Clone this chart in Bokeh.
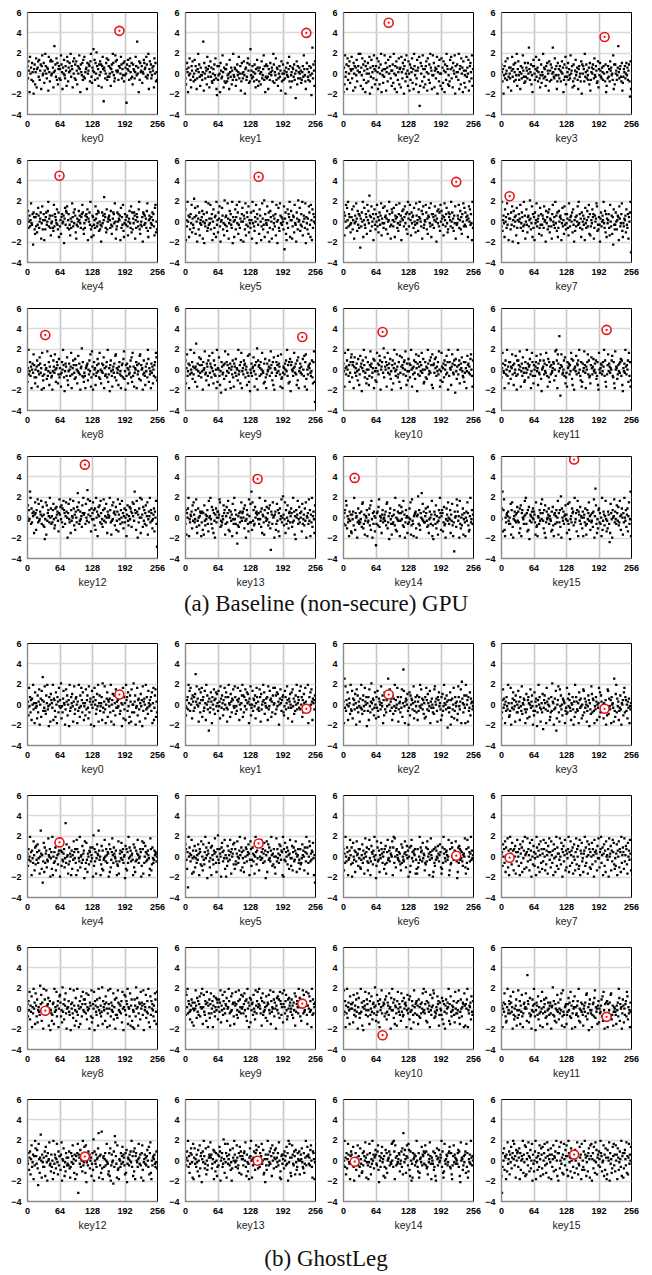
from bokeh.plotting import figure
from bokeh.layouts import column, row
from bokeh.models import Div, Spacer, FixedTicker, Label
from bokeh.embed import file_html
from bokeh.resources import INLINE

# ---------------------------------------------------------------- data
# Each letter is one key guess (0..255); value in units of 1e-3:
# (index of letter in LEVELS - index of "W") * 0.15
LEVELS = "ABCDEFGHIJKLMNOPQRSTUVWXYZabcdefghijklmnopqrstuvwxyz"
STEP = 0.15

panel_labels = ["key%d" % i for i in range(16)]
x_ticks = [0, 64, 128, 192, 256]
y_ticks = [-4, -2, 0, 2, 4, 6]
captions = ["(a) Baseline (non-secure) GPU", "(b) GhostLeg"]

correct_key = [181, 238, 89, 203, 63, 144, 222, 16, 35, 230, 77, 207, 113, 142, 22, 143]
baseline_correct = [4.2, 4.0, 5.0, 3.6, 4.5, 4.4, 3.9, 2.5, 3.4, 3.2, 3.7, 3.9, 5.2, 3.8, 3.9, 5.7]
ghostleg_correct = [1.0, -0.4, 1.0, -0.4, 1.4, 1.3, 0.1, -0.1, -0.2, 0.5, -2.6, -0.8, 0.4, 0.0, -0.1, 0.6]

baseline_noise = [
    "bTeYKhWaSdXRJZcP XgNZaeUfSYcMbiVW dQYjbWTaZLhXRefV WeaNXoYcUgSdPZbT ZSicXMaWfVTbYOhe RaXdYjUbZNeWgTcS eYPbWaiZKcXVdSfU hTXZaMdWYcbRejUQ aYmXfSdWkbTZOcVe XcNbhZEaYTWdgSUf bUWaOZcXjdVRTieY fXYSbLaWhcTZVdRe VaWDcZfYSbgXTdUP cZYTXhbVrWaKeSdX YbQXWfdZaUhcTVjM ZeXcTVaYbNgWdRXS",
    "TPZdXKaVgWSNbYeU RWfSbYMTZjXcUOaV VSXrLdWTaYPhZUbN XeUaRQWZScVgTMIb SVbWKdYTUiXNaRZQ ZcRVTWMfXUaPYSjV UaZOSYcVXhTWbLRd WTXeVJZaSUdgYQcR mVYTbUXRcWNZSfaO YRaWPXeTVZiSbKUc TbUMZWSdXVaYRjcQ XVgSaZOTWbUYLeRW cSWYTJaXVdUZhRbN VXRaZUcSWGYePbTX aWTYQSXbUiZVRMcd ZUSXbRVaIWnTcYOe",
    "KaPiUXcMgSbWeQZY hTZLdWbNaVfRYbjX XjOaVgMcSYeKbQWZ dRWhJaUfNXbTiZPY bSgXMeaPWcjKYVQZ UiZdLXaRfNWbhTYO YcQjWMbVeKaSXgPZ aNhXTdZJbfRWiUYO eWLcSaXgQZMjbVYP TfYaKhBOdWbRiZNU ZPbeXLgWScQjaYMV iVdNYaTZhJXbRfWO WgMaQeYKcXSjbZPV ORfZhTaNdYWiJbUX cXSjMZbPgWaKeYQV NYhUaWfLRbdXTiOZ",
    "cXRZJVbTeWYSgNUa WTaLYhUZcRXdSVjO ZeVSXMbWTaiYUQdR UaYTdWnZSXcPVKbf bWSZhUYaRXfTNVcQ XVjTaZUObSdYWLeR YcSaWnXUTgZVbMRd VZTbYRXeWaKScUhP aUXdSZVTiWYbNRcO TYfVXaSMZbUWReJc WbZRjUXcTYVSaPdL SXaWcZTgVUbYQReN ZVdYUTaXSbWhRcKO XTbUZReYaVWSiMcP cWYSVaoXTZbURdLQ UZXbTWdVaSYcRHeM",
    "YdSWaTXiVUbHcZRO ZTbPUfaSWYcLVgRX bKXRZcUWdjTYaSNV WaSQhTbZXVeURcMY TXOZbVWaIYfUdcgS XbRUNYSWiZTcVeaP LUYTWdXaVSZbhcRO VSaXbZeKYWcUjRMT aZNUXSgYbTVdcQWR UJTcVaXmbZSPeRWY ZaXSdUOTYcbViWLR TcWbYXaKfSZUhQMV bXUZaTNWYdVSgPcR YVcaLXSbZWTejROU WTZJcbUaVYSdiQMX aYSVZUcXbTNfhPWR",
    "eKXTjWaMZRbVhPYU SlZfOaWJgYRcNVXU ZdLWbIVTjXcQSiUY VhRYbKWeOSZaMjUX PcYgTJWXfaRVNkUZ aTQiYLVdXbUSjIZW MXeRZhVcOUjSYKWb fWJaYRiNUcZTgPXV ScXLjVdTQZWhIbYU ZOeaWKTiYRUkMbXV UgPXcJSdZWLjRaVY TbNhWIXfSQiaVZUY WRgEYcOKVeSbZjMX dXLTaZPhVUJcYRkW XfQUbTjNWaYSiIZV RYOgcUMhXKeSbWZV",
    "YcNaWhSfXjTbZUPV ZeRXgLVaWiYQdUbS aFYTcWjMXfUSbZOh XdVnaQZgTWbKYeUR bWhTZPXcUaiNYVfS VgZaRYdOWXjbTLUe cXTfWMaYhZSVQbiU WaKYdXeTZgVbRcOj YTbhXNcVZaSfWUPi aVXQeZjYWTdLbgSU XWhcRYOaZfVTiMbU bZSXgaWJYdVeTcQh WdYaUNZiXTbfVPRc ZbXTjWcSYQaVgLeU VaYhSXdRZObWiTfU cTZXaMYgWeUbVKjS",
    "TjQXaVMeWZSiUbKY VYRcUgJXdTZWaNfS XIbWYhSVcZQTjUaL WeUPZaTXkYRVgMbS ZKcVXiTWYaOSfUbN UaYSgWXJdVZRcTeP YXTLbhWUZSjVaQcM SdWZaYKVfTXOgUbR VbYSNiXTZaWcPeUJ XQZTaWgUjVbSYMcR WaUYKfVSXdTZhObN TXVeZbLSaWYigQUR ZUJYcTWaXjVSdPbM YVXbSNhWTaOZHeUR UcWRXaZKgYTVbiQM VTYXaPeUSbLZWcjC",
    "OXjTVbSYKWaUgZRN WRYcLVZTeaUXJhSP KTZaWXQiSVbMYUfR SJVcYUgWOXbZNTdR XTLUbWjZRIVaYSeP MVaWSYhKTXcZUQdR ZWNVfUaTJXYkSbRO USKXYZaPWTcVgLRi YJTbWXMSUZdVaRhQ WNVaUZeKXSTYbRjO TXIZcVSLWYUaRfgP XUWMYbTVKSZaRdiQ VJZSaXNWTUYcReOh SYLUXWbKZTVaQfgP ZWXJTcUSMYVaRjdO XTVKaUYNWSZbRheP",
    "cNXgSVaKZTjWUbQY ThXOYnWLaVSeZUdR ZVJbWXiTUPaYScMf UaYRXhVNcTZSWKjO XWeSMVHbYTUZQaiJ SbVZgUXOaKWYTcRL aYUdSXWPjTVZNbhK VXTcZaRWYMUfSOgI WUaSXYeVLZTbQkJc YZSXbTWhVUNaOdRK TaVWYcSXiZUPbMeJ XWSbUZfVaYTLgQRK UYXTaWcVjSZNbOdI ZbWVSXhYUaTMcPeK VXaUYTZdWSfLbgQJ WTYZXaUSVcRNbiOB",
    "aVLhXTYcWjSZOUbe gRZbKYeUXSaVPdWM TfYaIXcVjZRUeNWQ bWMSZiYaRUXdKcVP XOhVaTZfcJWYbSUk ReYWbLZhUXaTdQVJ ZcNXjaVSWgYRTbOf UKYeZXTbcWiSMaVP dVaRZjWLXTYcUQbg XIaTfYSbVZhUWdNO WbRYQXjaTVcUeZMg KZaUdXeSYVbTiWLP VhYOXaRcWZTfUbJj SbXWMYgaUTcZHdVQ YjTZcNWaXeVSRbOU bXKVfZaUYTdgWSLc",
    "RXhaVUKZcTWjSYNb VbQYXgTZMaUWfSJc TcZWiYLVaSeXUOPb XUjWaRYZdTKVhbSN ZWSYbfVXMaUTcgQI WXYcTaVUhZSLdRbO YTZUVXbaPWiSjcKg aVsXFZgYTUWcSeNR ULbXYaTZVhdQMcWJ XYVfTaZcUjWSPbLO aVXiZUKYWbgTcRSN ZeXTYdVWaUcQSbMJ hWUXaZTVbYjScOLP TZgVaYUXWcfSRbNK iWYXQTZVaUbdScMI XVaUjYTZWcOhSbLP",
    "WeUbVnjScTZXaMYg ZObWiTfUVaYhSXdR YQIVgLeUZbXTjWcS XTbfVPRcWdYaUNZi YdVeTcQhbZSXgaWJ ZfVTiMbUXWhcRYOa WTdmbgSUaVXQeZjY ZaSfWUoiYTbhXNcV ZgVbRcOjWaKYdXeT hZSVQbiUcXTfWMaY WXjbTLUeVgZaRYdO UaiNYVfSbWhTZPXc TWbKYeURXdVcaQZg XfUnbZOhaJYTcWjM WiYQdUbSZeRXgLVa XjTbZUPVYcNaWhSD",
    "SbLZWcjKVTYXaPeU gYTVbiQMUcWRXaZK TaOZLeURYVXbSNhW XjVSdPbMZUJYcTWa aWYigQURTXVeZbLS XdTZhObNWaUYKfVS jVbSYMFRXQZTaWgU ZaWcPeUJVbYSNiXT fTnOgUbRSdWZaYKV ZSjVaQcMYXTLbhWU dVZRcTePBaYSgWXJ YaOSfUbNZKcVXiTW kYRVgMbSWeUPZaTX cZQTjUaLXIbWYhSV dTZWaNfSVYRcUgJX WZSiUbKYTjQXaVMe",
    "WSZbRhePXTVKaUYN MYVaRjdOZWXJTcUS ZTVaQfgPSYLUXWbK TUYcReOhVJZSaXNW ESZaRdiQXUWMYbTV WYUaRfgPTXIZcVSL XSTYbRjOWNVaUZeK UZdVaRhQYJTbWXMS WTcVgLRiUSKXYZaP JXYkSbROZWmVfUaT TXcZUQdRMVaWSYhK RIVaYSePXTLUbWjZ OXbZNTdRSJVcYUgW SVbMYUfRKTAaWXQi eaUXJhSPWRYcLVZT KWaUgZRNOXjTVbSY",
    "VcnNbiOKWTYZXaUS WSfLbgQJVXaUYTZd UaTMcPeKZbWVSXhY jSZNbOdIUYXTaWcV aYTLgQRKXWSbUZfV iZUPbMeJTaVWYcSX VUNaOdRKYZSXbTWh LZTbQkJcWUaSXYeV YMUfSOgIVXTcZaRW jTVZNbhKaYUdSXWP aKWYTcRLSbVZgUXO YTUZQaiJXpeSMVPb cTZSWKjOUaYRXhVN UPaYSGMfZVJbWXiT aVSeZUdRThXOYcWL ZTjWUbQYcNXgSVnK",
]

ghostleg_noise = [
    "UYPhVbRZMaWjTXKe UXVNcRYgJWaOfZoS YUiSQcXjTVIbWLdZ XUjMaZSOeWKbYRhV ZUkNVRafXWJTgYcP WZIjSUbXdVLYiQTa bWKYSjUOcVhZReXM VXPgTZcUNiRYaJWf UYbIhWZQTdVjLXcS VXbMkURYiTKWaeOZ YVaRjLWZdSJcXPgU YUZVaiQSfXIWhNbT XMjZbSeVKOcYLgRW WkRYcJUVhPZaTLXd VZIiSYaWNjTbUQfX VZWbSeKXhMUcgOYR",
    "VPUZbTjXfShWaNcY SbUdqYiWaVLgXReZ hOZbSUfXMjWcTYFa RUeYKbWTgZQaeVdX SfVYNiaUcXPZThWb eULTbjXWOdYRaZgV UibQVSZhYaMWfTXc jOcRbVgZTeXdYKaW iPUWfSaZVcNXhbTY USgbLdTWYjZeQXVa UbMiTVfZaOYRchWX hQcTeVdYJWagXSZb cRPVfbTXiZNUaYdW UeLgVaQYScWjTXbZ UfTiWbOZRdXShYaV SjKVbUeWgYMaXZTc",
    "YKnUiSZWeMVaXQjT SfNaWZTdXJgUcRYV LaUjTQZcVShYWbIX SbMgVRYkXTaZPUeW NbUfSOaYWTiXVcKZ PeTcRZVdnXWgSYaU McQaVjSZUWhbLTXY RbUgOXtfVKYaZWdS JUePcWaZTXiNSYbV RcMYSbVjUgWaTZQX NbOhZTdXSVfKYUaW RUQgiYWaSLbZeVXT MbPdSVjXaWTcYHUZ RUeJZOaTWhNSbXVY MQibVTYgKlaXRWcU KjcWZLbSUePaXYTV",
    "NRZgUaWKYSbVTjXO PShJXUaeTZVLcYRW RfUYMbVSiQXWaZTK RdTNZbXOWgUYcVJS PeSYaVIRZjWbULTX RdGUZcXTKhYSWaVM ORbSkYXJTaUfFNWZ iRLgVcTWPaZYXKSU QhRaVdZUSMXWbTJY OjRbYTSXKeZUaVNW PgfRaUYWLSVcZIXT QidRaZSKVTbYMWUX hOeRcYUTWNXaSZJV PgfQaVTZKbWXULnS OdjRaVYMSUcTJXWZ PehRbZSWNYUaKVTX",
    "YQbUWjTZKaVSgXNc RdUZeSVaLWnYOXFT fMcSYaPUTiXWbJVZ OjKWSZTcNVhXRYaU JiaQZUTYbPVsSeWX LRcTYWKaOXUgZVbS KhbNZVTjPWXSdUYa IgOSfUMYWRaZcTXV cJkQbTZLVeYXnaUW KRdOaNUVhWTbXSZY JeMbPUZiXScYWVaT KRQgLTYaVfZUbSWX IdObNZSjVcWaTXYU KePcMTaUYhXSVWbZ JQgbLfSWdZTYUaXV KOibNRcVSUaXZYTW",
    "ebUOZCjWcYTXhLVa MWdPVaSXUeYKbZRg QWNeURZjVcXIaYfT PVcKdXURaYiZSMWb kUSbYWJcfZTaVhOX JVQdTaXUhZLbWYeR fObTRYgWSVajXNcZ PVaMSiWcbTXZeYKU gbQUcYTXLWjZRaVd ONdWUhZVbSYfTaIX gMZeUcVTajXQYRbW PLWiTbVYSeXdUaZK jJbUfTZWcRaXOYhV QVdNZcTUagYMWXbS UObRSVeXaWNcZTjY cLSWgdTYUaZfVKXF",
    "bNYSjWTcZKUVahXR cJSfWUaMZTgXYQbV bPOUXeSaVLYiWZcT NSbhVKTdZYRaWjUX IQgcTUaMXVfbYSWZ ObRdLSZhUVaTcYXW gKcjSiWPabXVUZTY RNeScWUTYgZPXdVa JWcMQdhVZTaYXbLU OLbPSWjUcZaTfVYX NSRcTgbWYKUZiXVa JMbSQcUaWVdYTXeZ PLOcSjYbVTZaXUWh KNbRSfcWXUYaVgZT IMcSdbUaVZTQXYWi PLbShOcWZTYjUaVX",
    "YZQeWbSgMcXUiPaK XjbYRfVaNbWdLZTh ZWQbKeYScMgVaOjX YPZiTbXNfUaJhWRd ZQVYKjcWPaeMXgSb OYThbWNfRaXLdZiU ZPgXSaKeVbMWjQcY OYUiWRfbJZdTXhNa PYVbjMZQgXaScLWe UNZiRbWdOQhKaYfT VMYajQcSWgLXebPZ OWfRbXJhZTaYNdVi VPZbjSXcKYeQaMgW XUbJiWYdNaThZfRO VQYeKaWgPbZMjSXc ZOiTXdbRLfWaUhYN",
    "ZRbVhPYUeKXTjWaM gYRcNVXUSlZfOaWJ jXcQSiUYZdLWbIVT OSZaMjUXVhRYbKWe faRVNkUZPcYgTJWX XbUSjIZWaTQiYLVd OUjSYKWbMXeRZhVc UcZTgPXVfWJaYRiN QZWhIbYUScXLjVdT YRUkMbXVZOeaWKTi ZWLjRaVYUgPXcJSd SQiaVZUYTbNhWIXf VeSbZjMXWRgLYcOK VUJcYRkWdXLTaZPh WaYSiIZVXfQUbTjN XKeSbWZVRYOgcUMh",
    "hSfXjTbZUPVYcNaW LVaWiYQdUbSZeRXg WjMXfUSbZOhaKYTc QZgTWbKYeURXdVca PXcUaiNYVfSbWhTZ YdOWXjbTLUeVgZaR MaYhZSVQbiUcXTfW XeTZgVbRcOjWaKYd NcVZaSfWUPiYTbhX ZjYWTdLbgSUaVXQe YOaZfVTiMbUXWhcR aWJYdVeTcQhbZSXg NZiXTbfVPRcWdYaU WcSYQaVgLeUZbXTj XdRZObWiTfUVaYhS MYgWeUbVKjScTZXa",
    "SiUbKYTjQXaVMeWZ ZWaNfSVYRcUgJXdT QTjUaLXIbWYhSVcZ RVgMbSWeUPZaTXkY OSfUbNZKcVXiTWYa ZRcTePUaYSgWXJdV jVaQcMYXTLbhWUZS XOgUbRSdWZaYKVfT WcPeUJVbYSNiXTZa bSYMcRXQZTaWgUjV TZhObNWaUYKfVSXd YigQURTXVeZbLSaW VSdPbMZUJYcTWaXj OZMeURYVXbSNhWTa TVbiQMUcWRXaZKgY LZWcjKVTYXaPeUSb",
    "SYKWaUgZRNOXjTVb ZTeaUXJhSPWRYcLV QiSVbMYUfRKTZaWX gWOsbZNTdRSJVcYU jZRIVaYSePXTLUbW hKTXcZUQdRMVaWSY aTJXYkSbROZWNVfU aPWTcVgLRiUSKXYZ MSUZdVaRhQYJTbWX eKXSTYbRjOWNVaUZ SLWYUaRfgPTXIZcV TVKSZaRdiQXUWMYb NWTUYcReOhVJZSaX bKZTVaQfgPSYLUXW USMYVaRjdOZWXJTc YNWSZbRhePXTVKaU",
    "WUbQYcNXgSVaKZTj eZUdRGhXOYnWLaVS YScMfZVJbWXiTUPa SWKjOUaYRXhVNcTZ ZQaiJXWeSMVPbYTU YTcRLSbVZgUXOaKW ZNbhBaYUdSXWPjTV fSOgIVXTcZaRWYMU bQkJcWUaSXYeoLZT aOpRKYZSXbTWhVUN PbMeJTaVWHcSmiZU LgQRKXWSbUZfVaYT NbOdIUYXTaWcVjSZ McPeKZbWVSXhYUaT LbgQJVXaUYTZdWSf NbiOKWTYZXaUSVcR",
    "XTYcWjSZOUbeaVLh KYeUXSaVPdWMgRZb IXcVjZRUeNWQTfYa ZiYaRUXdKcVPbWMS aTZfcJWYbSUkXOhV bLZhUXaTdQVJReYW jaVSWgYRTbOfZcNX ZXTbcWiSMaVPUKYe ZjWLXTYcUQbgdVaR fYSbVZhUWdNOXIaT QXjaTVcUeZMgWbRY dXeSYVbTiWLPKZaU XaRcWZTfUbJjVhYO MYgaUTcZNdVQSbXW cNWaXeVSRbOUYjTZ fZaUYTdgWSLcbXKV",
    "TWjSYNbRXhaVUKZc aUWfSJcVbQYXgTZM SeXUOPbTcZWiYLVa TKVhbSNXUjWaRYZd aUTcgQIZWSYbfVXM ZSLdRbOWXYcTaVUh WiSjcKgYTZUVXbaP UWcSeNoaVdXOZgYT hdQMcWJULbXYaTZV jWSPbLOXYVfTaZcU bgTcRSNaVXiZUKYW UcQSbMJZeXTYdVWa YjScOLPhWUXaZTVb cfSRbNKTZgVaYUXW UbdScMIiWYXQTZVa cOhSbLPXVaUjYTZW",
    "MBSbWeQZYKaPiUXc NaVfRYbjXhTZLdWb cSYeKbQWZXjOaVgM fNXbTiZPYdRWhJaU PWcjKYVQZbSgXMea RfNWbhTYOUiZdLXa VeKaSXgPZYcQjWMb JbfRWiUYOaNhXTdZ gQZMjbVYPeWLcSaX OdWbRiZNUTfYaKhQ WScQjaYMVZPbeXLg ZhJXbRfWOiVdNYaT cXSjbZPVWgMaQeYK NdYWiJbUXORfZhTa PgWaKeYQVcXSjMZb LRbdXTiOZNYhUaWf",
]


def decode(s):
    zero = LEVELS.index("W")
    return [round((LEVELS.index(c) - zero) * STEP, 2) for c in s if c in LEVELS]


# ---------------------------------------------------------------- styling
FRAME_W, FRAME_H = 130, 102
LEFT, RIGHT, TOP = 20, 8, 12


def make_panel(noise, kidx, kval, label, fig_h):
    vals = decode(noise)
    xs = list(range(len(vals)))
    if kidx < len(vals):
        vals[kidx] = kval
    p = figure(frame_width=FRAME_W, frame_height=FRAME_H,
               x_range=(0, 256), y_range=(-4, 6),
               output_backend="svg", toolbar_location=None,
               min_border_left=LEFT, min_border_right=RIGHT,
               min_border_top=TOP, min_border_bottom=fig_h - TOP - FRAME_H)
    p.background_fill_color = "white"
    p.border_fill_color = "white"
    p.outline_line_color = "black"
    p.outline_line_width = 1

    p.xaxis.ticker = FixedTicker(ticks=x_ticks)
    p.yaxis.ticker = FixedTicker(ticks=y_ticks)
    for ax in (p.xaxis[0], p.yaxis[0]):
        ax.major_tick_line_color = None
        ax.minor_tick_line_color = None
        ax.major_tick_out = 0
        ax.major_tick_in = 0
        ax.minor_tick_out = 0
        ax.minor_tick_in = 0
        ax.axis_line_color = "#8a8a8a"
        ax.axis_line_width = 1.4
        ax.major_label_text_font = "Liberation Sans"
        ax.major_label_text_font_style = "bold"
        ax.major_label_text_font_size = "9px"
        ax.major_label_text_color = "black"
        ax.major_label_standoff = 6
    p.xaxis.axis_label = label
    p.xaxis.axis_label_text_font = "Liberation Sans"
    p.xaxis.axis_label_text_font_style = "normal"
    p.xaxis.axis_label_text_font_size = "10.5px"
    p.xaxis.axis_label_text_color = "#222222"
    p.xaxis.axis_label_standoff = 2

    p.xgrid.ticker = FixedTicker(ticks=[64, 128, 192])
    p.ygrid.ticker = FixedTicker(ticks=[-2, 0, 2, 4])
    p.xgrid.grid_line_color = "#c6c6c6"
    p.xgrid.grid_line_width = 1.6
    p.ygrid.grid_line_color = "#dadada"
    p.ygrid.grid_line_width = 1.6

    p.scatter(xs, vals, marker="square", size=2.3,
              fill_color="black", line_color=None)
    p.scatter([kidx], [kval], marker="circle_dot", size=9,
              fill_color="white", line_color="#e8141c", line_width=1.6)

    p.add_layout(Label(x=0, y=6, x_offset=1, y_offset=0, text="x10⁻³",
                       text_font="Liberation Sans", text_font_size="7.5px",
                       text_baseline="bottom", text_color="black"))
    return p


def block(noises, corrects, fig_h):
    rows = []
    for r in range(4):
        figs = []
        for c in range(4):
            i = r * 4 + c
            figs.append(make_panel(noises[i], correct_key[i], corrects[i],
                                   panel_labels[i], fig_h))
        rows.append(row(Spacer(width=7, height=fig_h), *figs))
    return rows


def caption(text, h, pad):
    html = ('<div style="width:652px;text-align:center;'
            'font-family:\'Liberation Serif\',\'Times New Roman\',serif;'
            'font-size:23px;line-height:24px;color:#111;padding-top:%dpx">%s</div>'
            % (pad, text))
    return Div(text=html, width=652, height=h, margin=0)


top_rows = block(baseline_noise, baseline_correct, 148)
bottom_rows = block(ghostleg_noise, ghostleg_correct, 152)

layout = column(*top_rows, caption(captions[0], 39, 0),
                *bottom_rows, caption(captions[1], 36, 8))

with open("out.html", "w") as f:
    f.write(file_html(layout, INLINE))
